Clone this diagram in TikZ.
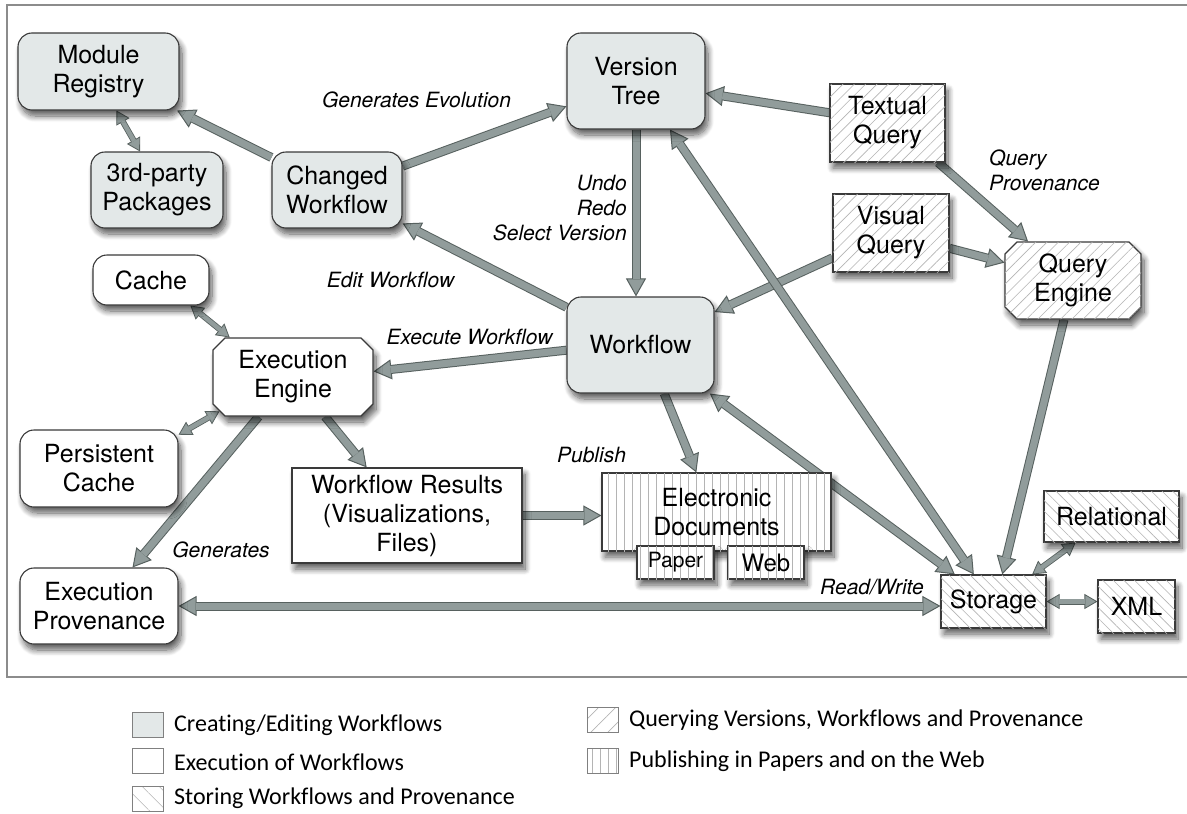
\documentclass[tikz,border=0pt]{standalone}
\usepackage{fontspec}
\setmainfont{TeX Gyre Heros}
\newfontfamily\legendfont{Carlito}[Ligatures={NoCommon}]
\usetikzlibrary{arrows.meta,shapes.misc,patterns.meta,shadows.blur,backgrounds,calc}

\definecolor{editgray}{HTML}{E3E8E8}
\definecolor{arrowfill}{HTML}{919C9B}
\definecolor{arrowedge}{HTML}{57615F}
\definecolor{boxline}{HTML}{3A3A3A}
\definecolor{hatch}{HTML}{B4B4B4}
\definecolor{framegray}{HTML}{8C8C8C}
\definecolor{shadowcol}{HTML}{6F8282}

\tikzset{
  bigtip/.tip={Triangle[width=20pt,length=18pt,line width=1pt,fill=arrowfill]},
  smalltip/.tip={Triangle[width=15pt,length=13pt,line width=.8pt,fill=arrowfill]},
}

\begin{document}
\begin{tikzpicture}[x=1pt, y=-1pt,
  box/.style={draw=boxline, line width=1.1pt, inner sep=0pt, align=center, font=\fontsize{25}{29}\selectfont,
    blur shadow={shadow xshift=3pt, shadow yshift=-6pt, shadow blur radius=6pt, shadow opacity=65, shadow blur steps=10, fill=shadowcol}},
  editbox/.style={box, rounded corners=14pt, fill=editgray},
  execbox/.style={box, rounded corners=14pt, fill=white},
  plainbox/.style={box, fill=white},
  engine/.style={chamfered rectangle, chamfered rectangle xsep=6pt, chamfered rectangle ysep=6pt},
  querybox/.style={box, fill=white, postaction={pattern={Lines[angle=45,distance=8pt,line width=.6pt]}, pattern color=hatch}},
  storebox/.style={box, fill=white, postaction={pattern={Lines[angle=-45,distance=7.5pt,line width=.6pt]}, pattern color=hatch}},
  pubbox/.style={box, fill=white, postaction={pattern={Lines[angle=90,distance=8pt,line width=.6pt]}, pattern color=hatch}},
  lbl/.style={inner sep=0pt, font=\fontsize{21}{25}\selectfont\itshape},
  flow/.style={draw=arrowedge, line width=9pt, -bigtip, postaction={draw=arrowfill, line width=7pt, arrows=-, shorten >=17pt}},
  flowboth/.style={draw=arrowedge, line width=9pt, bigtip-bigtip, postaction={draw=arrowfill, line width=7pt, arrows=-, shorten <=17pt, shorten >=17pt}},
  link/.style={draw=arrowedge, line width=6pt, smalltip-smalltip, postaction={draw=arrowfill, line width=4.4pt, arrows=-, shorten <=12pt, shorten >=12pt}},
  key/.style={draw=gray, line width=1pt, minimum width=31pt, minimum height=25pt, inner sep=0pt},
  keytext/.style={anchor=west, inner sep=0pt, font=\legendfont\fontsize{24}{28}\selectfont}
]
\useasboundingbox (0,0) rectangle (1187,814);
\draw[framegray, line width=1.5pt] (1195,5) -- (7,5) -- (7,677) -- (1195,677);

% creating and editing
\node[editbox, minimum width=161pt, minimum height=77pt] (mr) at (98.5,71.5) {Module\\Registry};
\node[editbox, minimum width=132pt, minimum height=76pt] (third) at (157,190) {3rd-party\\Packages};
\node[editbox, minimum width=130pt, minimum height=76pt] (cw) at (337,190) {Changed\\Workflow};
\node[editbox, minimum width=138pt, minimum height=96pt] (vt) at (636,81) {Version\\Tree};
\node[editbox, minimum width=147pt, minimum height=96pt] (wf) at (640.5,345) {Workflow};

% execution
\node[execbox, minimum width=116pt, minimum height=50pt] (cache) at (151,280) {Cache};
\node[plainbox, engine, minimum width=160pt, minimum height=78pt] (ee) at (293,377) {Execution\\Engine};
\node[execbox, minimum width=158pt, minimum height=77pt] (pc) at (99,468.5) {Persistent\\Cache};
\node[execbox, minimum width=158pt, minimum height=76pt] (ep) at (99,606) {Execution\\Provenance};
\node[plainbox, minimum width=230pt, minimum height=95pt] (wr) at (407,515.5) {Workflow Results\\(Visualizations,\\Files)};

% querying
\node[querybox, minimum width=115pt, minimum height=78pt] (tq) at (887.5,123) {Textual\\Query};
\node[querybox, minimum width=116pt, minimum height=78pt] (vq) at (891,233) {Visual\\Query};
\node[querybox, engine, minimum width=136pt, minimum height=77pt] (qe) at (1073,280.5) {Query\\Engine};

% publishing
\node[pubbox, minimum width=229pt, minimum height=78pt] (ed) at (716.5,512) {Electronic\\Documents};
\node[pubbox, minimum width=77pt, minimum height=33pt, font=\fontsize{21}{25}\selectfont] (paper) at (675.5,562.5) {Paper};
\node[pubbox, minimum width=76pt, minimum height=33pt, font=\fontsize{24}{28}\selectfont] (web) at (766,562.5) {Web};

% storing
\node[storebox, minimum width=105pt, minimum height=53pt] (storage) at (993.5,601.5) {Storage};
\node[storebox, minimum width=135pt, minimum height=51pt] (rel) at (1111.5,516.5) {Relational};
\node[storebox, minimum width=77pt, minimum height=53pt] (xml) at (1136.5,606.5) {XML};

% labels
\node[lbl] (lblevol) at (416.5,100) {Generates Evolution};
\node[lbl, align=right, anchor=east] (lblundo) at (627,208) {Undo\\Redo\\Select Version};
\node[lbl] (lbledit) at (390.5,280) {Edit Workflow};
\node[lbl] (lblexec) at (469.5,337) {Execute Workflow};
\node[lbl, align=left, anchor=west] (lblquery) at (989,170) {Query\\Provenance};
\node[lbl] (lblgen) at (221,550) {Generates};
\node[lbl] (lblpub) at (591.5,455) {Publish};
\node[lbl] (lblrw) at (872,587) {Read/Write};

\begin{scope}[on background layer]
\draw[flow] (cw) -- (mr);
\draw[link] ([xshift=18pt]mr.south) -- ([xshift=-17pt]third.north);
\draw[flow] (cw.20) -- (vt.200);
\draw[flow] (tq.170) -- (vt.-10);
\draw[flow] (vt.south) -- (vt.south |- wf.north);
\draw[flow] (wf.153) -- (cw.-27);
\draw[flow] (tq.-38) -- (qe.139);
\draw[flow] (vq) -- (qe);
\draw[flow] (vq.203) -- (wf.24);
\draw[flow] (wf.184) -- (ee.4);
\draw[link] (cache.-33) -- (ee.148);
\draw[link] (ee.205) -- (pc.23);
\draw[flow] (ee.229) -- (ep.49);
\draw[flow] (ee.-51) -- (wr.130);
\draw[flow] (wr.east) -- (wr.east -| ed.west);
\draw[flow] (wf.-64) -- (ed.117);
\draw[flowboth] (wf.-35) -- (storage.145);
\draw[flowboth] (vt.-55) -- (storage.126);
\draw[flow] (qe.257) -- (storage.72);
\draw[flowboth] (ep.east) -- (ep.east -| storage.west);
\draw[link] (storage.35) -- (rel.216);
\draw[link] (storage.east) -- (storage.east -| xml.west);
\end{scope}

% legend
\node[key, fill=editgray] (keyedit) at (147.5,724.5) {};
\node[key, fill=white] (keyexec) at (147.5,761) {};
\node[key, pattern={Lines[angle=-45,distance=12pt,line width=.6pt]}, pattern color=hatch] (keystore) at (147.5,798.5) {};
\node[key, pattern={Lines[angle=45,distance=12pt,line width=.6pt]}, pattern color=hatch] (keyquery) at (603,720) {};
\node[key, pattern={Lines[angle=90,distance=8pt,line width=.6pt]}, pattern color=hatch] (keypub) at (603,761) {};
\node[keytext] (txtedit) at (174,725) {Creating/Editing Workflows};
\node[keytext] (txtexec) at (174,762) {Execution of Workflows};
\node[keytext] (txtstore) at (174,798) {Storing Workflows and Provenance};
\node[keytext] (txtquery) at (629,720) {Querying Versions, Workflows and Provenance};
\node[keytext] (txtpub) at (629,761) {Publishing in Papers and on the Web};
\end{tikzpicture}
\end{document}
